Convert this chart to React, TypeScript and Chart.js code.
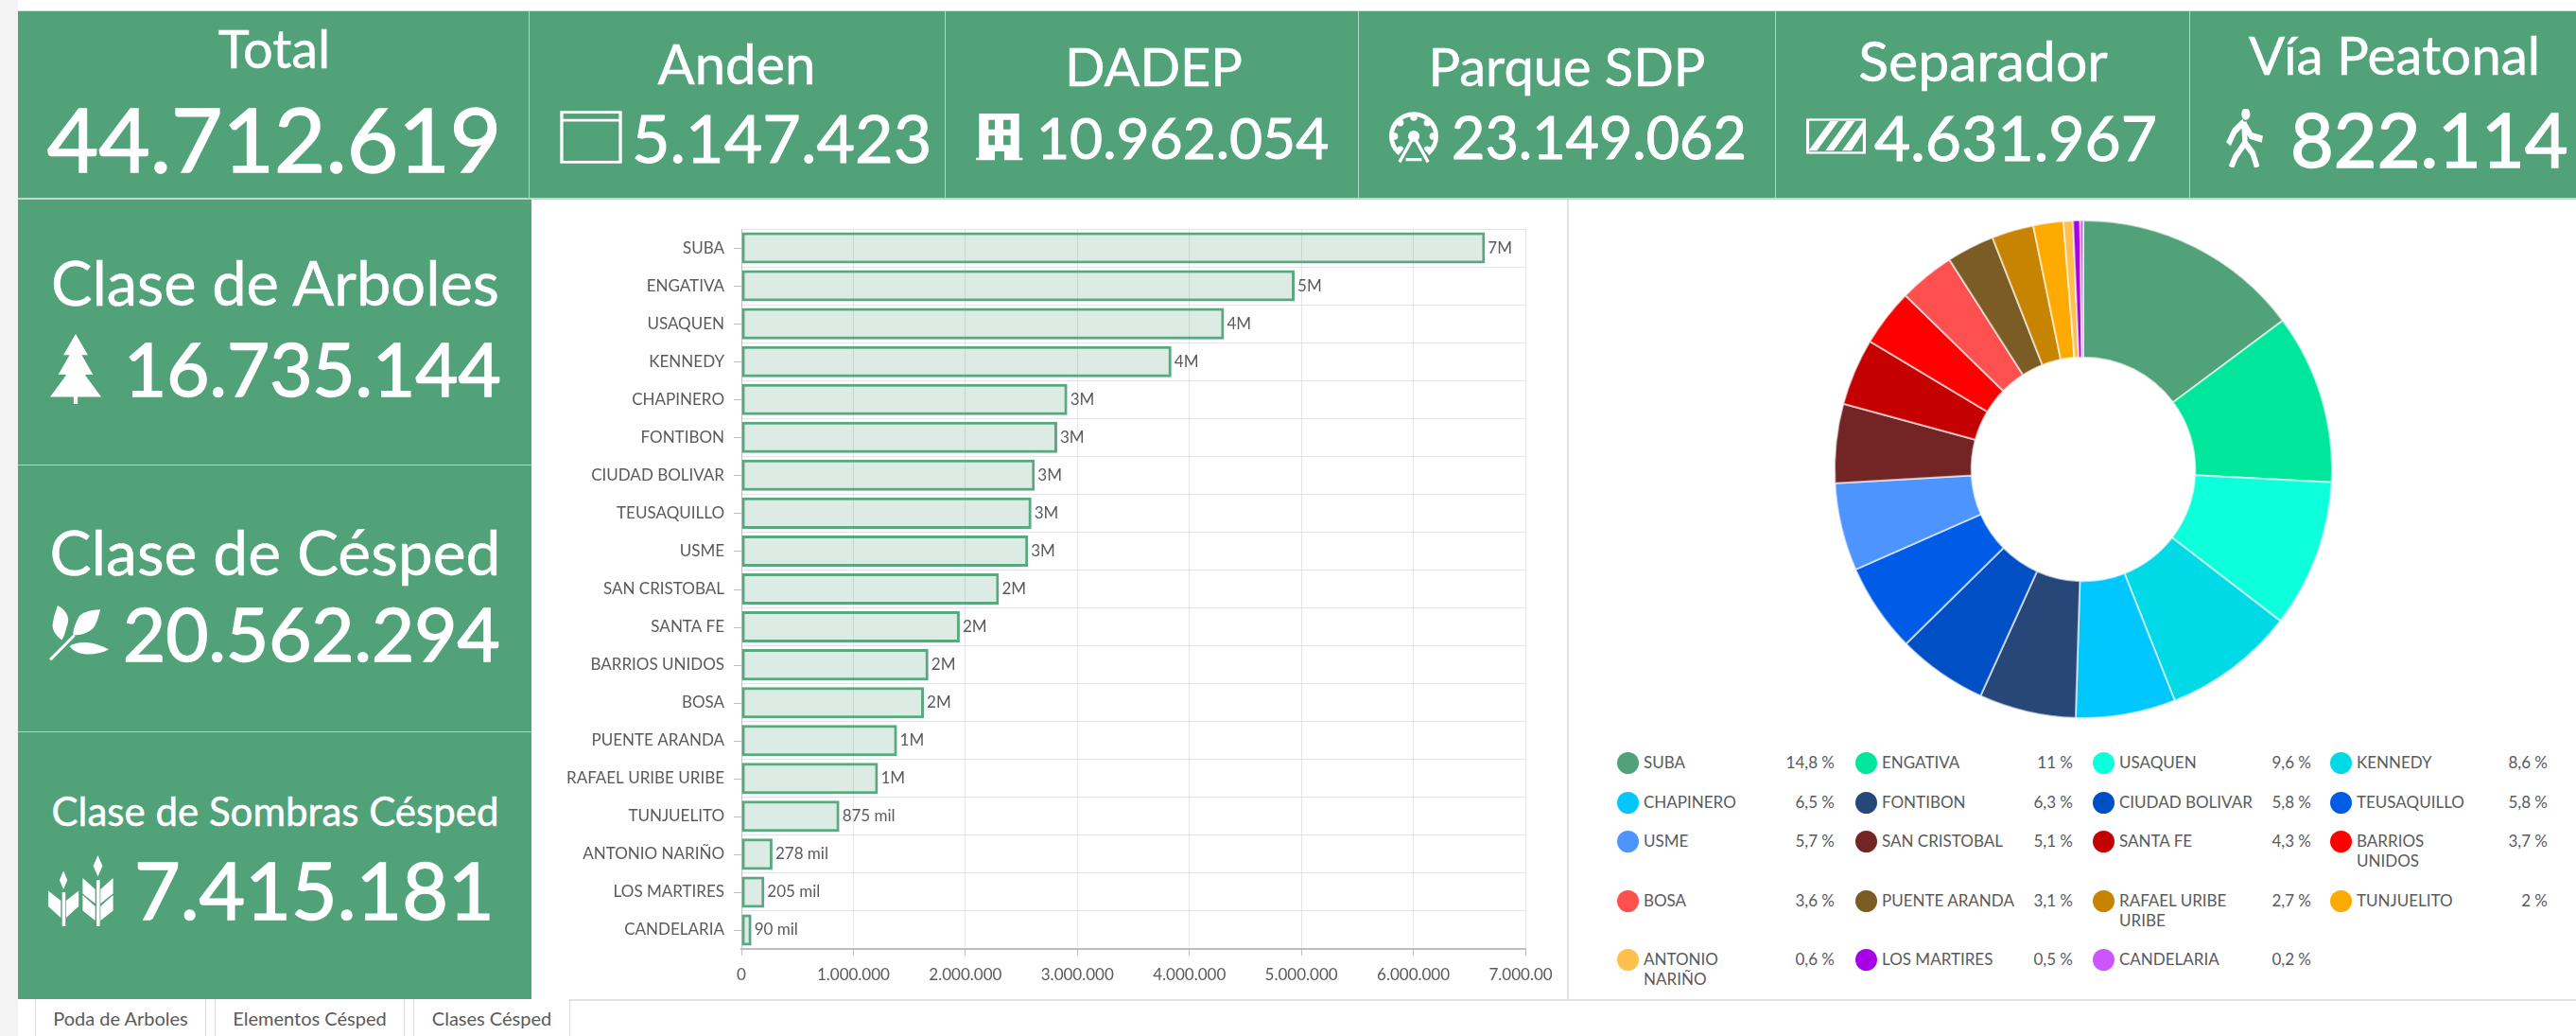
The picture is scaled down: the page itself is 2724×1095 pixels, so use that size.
import React, { useEffect, useRef } from "react";
import { Chart, registerables } from "chart.js";

Chart.register(...registerables);

const categories = ["SUBA","ENGATIVA","USAQUEN","KENNEDY","CHAPINERO","FONTIBON","CIUDAD BOLIVAR","TEUSAQUILLO","USME","SAN CRISTOBAL","SANTA FE","BARRIOS UNIDOS","BOSA","PUENTE ARANDA","RAFAEL URIBE URIBE","TUNJUELITO","ANTONIO NARIÑO","LOS MARTIRES","CANDELARIA"];
const values = [6640000,4940000,4310000,3840000,2910000,2820000,2620000,2590000,2560000,2300000,1950000,1670000,1630000,1390000,1220000,875000,278000,205000,90000];
const barLabels = ["7M","5M","4M","4M","3M","3M","3M","3M","3M","2M","2M","2M","2M","1M","1M","875 mil","278 mil","205 mil","90 mil"];
const sliceColors = ["#51a179","#00e69b","#0dffdc","#00dae6","#00c8ff","#264778","#004fc4","#005ce6","#4d94ff","#732424","#c40000","#ff0000","#ff5050","#7a5c24","#c78400","#ffaa00","#ffc04d","#aa00e6","#cc55ff"];
const legendLabels = ["SUBA","ENGATIVA","USAQUEN","KENNEDY","CHAPINERO","FONTIBON","CIUDAD BOLIVAR","TEUSAQUILLO","USME","SAN CRISTOBAL","SANTA FE","BARRIOS\nUNIDOS","BOSA","PUENTE ARANDA","RAFAEL URIBE\nURIBE","TUNJUELITO","ANTONIO\nNARIÑO","LOS MARTIRES","CANDELARIA"];
const legendPercents = ["14,8 %","11 %","9,6 %","8,6 %","6,5 %","6,3 %","5,8 %","5,8 %","5,7 %","5,1 %","4,3 %","3,7 %","3,6 %","3,1 %","2,7 %","2 %","0,6 %","0,5 %","0,2 %"];
const tabs = ["Poda de Arboles","Elementos Césped","Clases Césped"];

const GREEN = "#51a179";
const FONT = "Lato, sans-serif";

const dots = (v: number) => String(v).replace(/\B(?=(\d{3})+(?!\d))/g, ".");

const Txt = ({ x, y, w, size, children, anchor = "center", stroke = 0.5 }: any) => (
  <div style={{
    position: "absolute", left: anchor === "left" ? x : x - w / 2, top: y - 100, height: 200, width: w,
    display: "flex", alignItems: "center", justifyContent: anchor === "left" ? "flex-start" : "center",
    color: "#fff", fontSize: size, fontFamily: FONT, whiteSpace: "nowrap",
    WebkitTextStroke: `${stroke}px #fff`,
  } as any}>{children}</div>
);

const Icon = ({ x, y, w, h, vb = "0 0 100 100", children }: any) => (
  <svg style={{ position: "absolute", left: x, top: y, width: w, height: h }} viewBox={vb} preserveAspectRatio="none">{children}</svg>
);

export default function App() {
  const barRef = useRef<HTMLCanvasElement>(null);
  const donutRef = useRef<HTMLCanvasElement>(null);

  useEffect(() => {
    const labelPlugin = {
      id: "barExtras",
      afterDatasetsDraw(chart: any) {
        const { ctx, scales } = chart;
        const meta = chart.getDatasetMeta(0);
        ctx.save();
        ctx.font = `17px ${FONT}`;
        ctx.fillStyle = "#5a5a5a";
        ctx.textBaseline = "middle";
        ctx.textAlign = "left";
        meta.data.forEach((el: any, i: number) => ctx.fillText(barLabels[i], el.x + 3, el.y));
        ctx.strokeStyle = "#bdbdbd";
        ctx.lineWidth = 1;
        const left = scales.x.left;
        categories.forEach((_: string, i: number) => {
          const y = Math.round(scales.y.getPixelForValue(i)) + 0.5;
          ctx.beginPath();
          ctx.moveTo(left - 8, y);
          ctx.lineTo(left, y);
          ctx.stroke();
        });
        ctx.restore();
      },
    };
    const bar = new Chart(barRef.current!, {
      type: "bar",
      plugins: [labelPlugin],
      data: {
        labels: categories,
        datasets: [{
          data: values,
          backgroundColor: "rgba(81,161,121,0.2)",
          borderColor: "#5aa881",
          borderWidth: 3,
          borderSkipped: false,
          inflateAmount: 0,
          barPercentage: 0.825,
          categoryPercentage: 1,
        }],
      },
      options: {
        indexAxis: "y",
        animation: false,
        responsive: false,
        maintainAspectRatio: false,
        layout: { autoPadding: false, padding: { top: 30, right: 44, bottom: 0, left: 0 } },
        plugins: { legend: { display: false }, tooltip: { enabled: false } },
        scales: {
          x: {
            min: 0, max: 7000000,
            grid: { color: "#e4e4e4", tickLength: 7, tickColor: "#bdbdbd" },
            border: { color: "#bdbdbd", width: 2 },
            afterFit: (s: any) => { s.height = 52; s.paddingRight = 0; s.paddingLeft = 0; },
            ticks: {
              stepSize: 1000000, autoSkip: false, maxRotation: 0, minRotation: 0, padding: 10,
              color: "#5a5a5a", font: { family: "Lato", size: 17 },
              callback: (v: any) => dots(Number(v)),
            },
          },
          y: {
            grid: { color: "#e4e4e4", drawTicks: false, offset: true },
            border: { color: "#bdbdbd" },
            afterFit: (s: any) => { s.width = 222; },
            ticks: { autoSkip: false, padding: 18, color: "#5a5a5a", font: { family: "Lato", size: 17 } },
          },
        },
      },
    } as any);
    const donut = new Chart(donutRef.current!, {
      type: "doughnut",
      data: {
        labels: categories,
        datasets: [{ data: values, backgroundColor: sliceColors, borderColor: "rgba(255,255,255,0.6)", borderWidth: 2 }],
      },
      options: {
        animation: false,
        responsive: false,
        maintainAspectRatio: false,
        cutout: "45%",
        layout: { padding: 2 },
        plugins: { legend: { display: false }, tooltip: { enabled: false } },
      },
    } as any);
    return () => { bar.destroy(); donut.destroy(); };
  }, []);

  const legendCols = [1710, 1962, 2213, 2464];
  const legendEnds = [1940, 2192, 2444, 2694];
  const legendRows = [806, 848, 889, 952, 1014];

  return (
    <div style={{ position: "fixed", left: 0, top: 0, width: 2724, height: 1095, background: "#fff", overflow: "hidden", fontFamily: FONT }}>
      <div style={{ position: "absolute", left: 0, top: 0, width: 19, height: 1095, background: "#f3f3f3" }} />
      <div style={{ position: "absolute", left: 19, top: 11, width: 2705, height: 200, background: GREEN, borderTop: "1px solid #cfd8d3", boxSizing: "border-box", borderBottom: "2px solid #c6d6cd" }} />
      {[559, 999, 1436, 1877, 2315].map((x) => (
        <div key={x} style={{ position: "absolute", left: x, top: 12, width: 1, height: 198, background: "#b5d2c3" }} />
      ))}
      <div style={{ position: "absolute", left: 19, top: 211, width: 543, height: 845, background: GREEN }} />
      {[491, 773].map((y) => (
        <div key={y} style={{ position: "absolute", left: 19, top: y, width: 543, height: 1, background: "#b5d2c3" }} />
      ))}

      <Txt x={290} y={50} w={400} size={56}>Total</Txt>
      <Txt x={290} y={145} w={520} size={94} stroke={1.5}>44.712.619</Txt>

      <Txt x={779} y={66} w={400} size={58}>Anden</Txt>
      <Icon x={592} y={117} w={66} h={56}>
        <rect x="3" y="3" width="94" height="94" fill="none" stroke="#fff" strokeWidth="5" />
        <line x1="3" y1="18" x2="97" y2="18" stroke="#fff" strokeWidth="5" />
      </Icon>
      <Txt x={668} y={145} w={320} size={70} anchor="left" stroke={1}>5.147.423</Txt>

      <Txt x={1220} y={69} w={400} size={56}>DADEP</Txt>
      <Icon x={1032} y={120} w={50} h={50} vb="35 45 150 150">
        <path fillRule="evenodd" fill="#fff" d="M45 45H172V185H183V193H35V185H45ZM75 65V95H95V65ZM122 65V95H145V65ZM75 115V145H95V115ZM122 115V145H145V115ZM95 165V193H125V165Z" />
      </Icon>
      <Txt x={1096} y={144} w={320} size={60.5} anchor="left" stroke={1}>10.962.054</Txt>

      <Txt x={1657} y={69} w={400} size={56}>Parque SDP</Txt>
      <Icon x={1468} y={118} w={54} h={55} vb="1345 40 160 165">
        <circle cx="1425" cy="118" r="70" fill="none" stroke="#fff" strokeWidth="14" />
        {[0, 45, 90, 135, 180, 225, 270, 315].map((a) => (
          <circle key={a} cx={1425 + 60 * Math.cos((a * Math.PI) / 180)} cy={118 + 60 * Math.sin((a * Math.PI) / 180)} r="11" fill="#fff" />
        ))}
        <path d="M1360 200L1425 118L1490 200Z" fill={GREEN} />
        <path d="M1425 118L1380 200M1425 118L1470 200M1400 192H1450" stroke="#fff" strokeWidth="10" fill="none" />
        <circle cx="1425" cy="118" r="18" fill="#fff" />
      </Icon>
      <Txt x={1535} y={144} w={320} size={61} anchor="left" stroke={1}>23.149.062</Txt>

      <Txt x={2097} y={63} w={400} size={59}>Separador</Txt>
      <Icon x={1910} y={125} w={63} h={38}>
        <rect x="2" y="4" width="96" height="92" fill="none" stroke="#fff" strokeWidth="6" />
        <path d="M4 90L40 8H54L18 90ZM32 90L68 8H82L46 90ZM60 90L96 8V38L76 90Z" fill="#fff" />
      </Icon>
      <Txt x={1982} y={144} w={320} size={66} anchor="left" stroke={1}>4.631.967</Txt>

      <Txt x={2532} y={57} w={400} size={56.5}>Vía Peatonal</Txt>
      <Icon x={2350} y={115} w={46} h={62}>
        <circle cx="54" cy="9" r="10" fill="#fff" />
        <path d="M50 22L28 38L14 60M50 22L52 58L30 82L20 100M52 58L70 76L80 100M50 26L66 46L92 52" stroke="#fff" strokeWidth="12" fill="none" />
      </Icon>
      <Txt x={2422} y={146} w={320} size={79} anchor="left" stroke={1.5}>822.114</Txt>

      <Txt x={291} y={298} w={520} size={65}>Clase de Arboles</Txt>
      <Icon x={53} y={353} w={54} h={74}>
        <path d="M50 0L74 30H62L84 58H68L100 90H54V100H46V90H0L32 58H16L38 30H26Z" fill="#fff" />
      </Icon>
      <Txt x={131} y={389} w={420} size={78} anchor="left" stroke={1.5}>16.735.144</Txt>

      <Txt x={291} y={582} w={520} size={66}>Clase de Césped</Txt>
      <Icon x={52} y={640} w={63} h={58} vb="65 120 190 175">
        <path fill="#fff" d="M92 120C120 135 135 160 120 190C115 210 110 225 105 230C85 215 70 195 78 170C80 150 88 135 92 120Z" />
        <path fill="#fff" d="M228 133C195 135 165 140 155 165C145 185 140 205 142 215C170 215 205 205 215 175C222 160 225 145 228 133Z" />
        <path fill="#fff" d="M130 250C160 230 210 235 255 260C215 280 155 285 130 250Z" />
        <path fill="#fff" d="M65 290L142 212L148 218L72 296Z" />
      </Icon>
      <Txt x={130} y={669} w={420} size={78} anchor="left" stroke={1.5}>20.562.294</Txt>

      <Txt x={291} y={857} w={520} size={42}>Clase de Sombras Césped</Txt>
      <Icon x={51} y={904} w={70} h={75}>
        <path d="M75 0L82 15L75 30L68 15ZM23 22L29 35L23 48L17 35ZM73 35V100H78V35ZM21 52V100H26V52Z" fill="#fff" />
        <path d="M71 48L52 32V54L71 68ZM79 48L98 32V54L79 68ZM71 72L52 56V78L71 92ZM79 72L98 56V78L79 92ZM19 64L0 50V72L19 88ZM27 64L46 50V72L27 88Z" fill="#fff" />
      </Icon>
      <Txt x={142} y={939} w={420} size={84} anchor="left" stroke={1.5}>7.415.181</Txt>

      <div style={{ position: "absolute", left: 562, top: 212, width: 1080, height: 843, overflow: "hidden" }}>
        <canvas ref={barRef} width={1095} height={843} style={{ display: "block" }} />
      </div>
      <div style={{ position: "absolute", left: 1657, top: 211, width: 2, height: 845, background: "#e2e2e2" }} />

      <canvas ref={donutRef} width={532} height={532} style={{ position: "absolute", left: 1937, top: 230, display: "block" }} />

      {legendLabels.map((label, i) => {
        const col = i % 4;
        const y = legendRows[Math.floor(i / 4)];
        return (
          <React.Fragment key={label}>
            <div style={{ position: "absolute", left: legendCols[col], top: y - 11, width: 23, height: 23, borderRadius: "50%", background: sliceColors[i] }} />
            <div style={{ position: "absolute", left: legendCols[col] + 28, top: y - 10, whiteSpace: "pre", fontSize: 17, lineHeight: "20.5px", color: "#5a5a5a" }}>{label}</div>
            <div style={{ position: "absolute", left: legendEnds[col] - 80, width: 80, top: y - 10, textAlign: "right", fontSize: 17, lineHeight: "20.5px", color: "#5a5a5a" }}>{legendPercents[i]}</div>
          </React.Fragment>
        );
      })}

      <div style={{ position: "absolute", left: 603, top: 1056, width: 2121, height: 2, background: "#e2e2e2" }} />
      {tabs.map((t, i) => {
        const x = [37, 227, 437][i];
        const w = [181, 201, 166][i];
        return (
          <div key={t} style={{ position: "absolute", left: x, top: 1056, width: w, height: 39, boxSizing: "border-box", borderLeft: "1px solid #dcdcdc", borderRight: "1px solid #dcdcdc", background: "#fff", display: "flex", alignItems: "center", justifyContent: "center", fontSize: 20, color: "#5a5a5a" }}>{t}</div>
        );
      })}
    </div>
  );
}
